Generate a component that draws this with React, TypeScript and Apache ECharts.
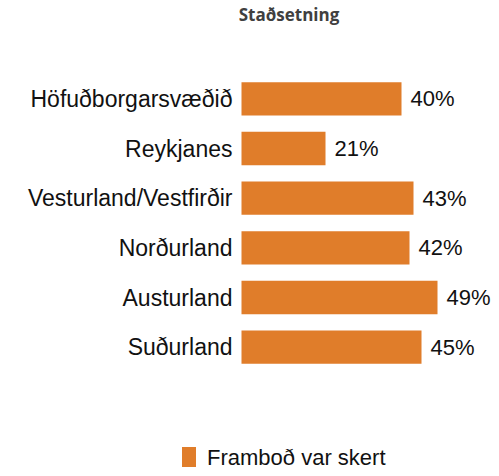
import React, { useEffect, useRef } from "react";
import * as echarts from "echarts";

const categories = ["Höfuðborgarsvæðið", "Reykjanes", "Vesturland/Vestfirðir", "Norðurland", "Austurland", "Suðurland"];
const values = [40, 21, 43, 42, 49, 45];
const seriesName = "Framboð var skert";
const titleText = "Staðsetning";

export default function App() {
  const ref = useRef<HTMLDivElement>(null);
  useEffect(() => {
    if (!ref.current) return;
    const chart = echarts.init(ref.current, null, { renderer: "svg" });
    chart.setOption({
      animation: false,
      title: {
        text: titleText,
        left: 284,
        textAlign: "center",
        top: 1,
        textStyle: { fontFamily: "Open Sans", fontWeight: "bold", fontSize: 17, color: "#404040" },
      },
      legend: {
        data: [seriesName],
        left: 177,
        top: 441,
        itemWidth: 14,
        itemHeight: 20,
        icon: "rect",
        textStyle: { fontFamily: "Liberation Sans, Arial", fontSize: 22, color: "#111", padding: [0, 0, 0, 6] },
      },
      grid: { left: 241.5, top: 74, height: 298, width: 240, containLabel: false },
      xAxis: {
        type: "value",
        min: 0,
        max: 60,
        show: false,
        splitLine: { show: false },
      },
      yAxis: {
        type: "category",
        data: categories,
        inverse: true,
        axisLine: { show: false },
        axisTick: { show: false },
        axisLabel: {
          margin: 9,
          fontFamily: "Liberation Sans, Arial",
          fontSize: 23,
          color: "#111",
        },
      },
      series: [
        {
          name: seriesName,
          type: "bar",
          data: values,
          barCategoryGap: "33%",
          itemStyle: { color: "#E07D2A" },
          label: {
            show: true,
            position: "right",
            distance: 9,
            formatter: "{c}%",
            fontFamily: "Liberation Sans, Arial",
            fontSize: 22,
            color: "#111",
          },
        },
      ],
    });
    return () => chart.dispose();
  }, []);
  return <div ref={ref} style={{ width: 499, height: 476, position: "absolute", left: 0, top: 0 }} />;
}
